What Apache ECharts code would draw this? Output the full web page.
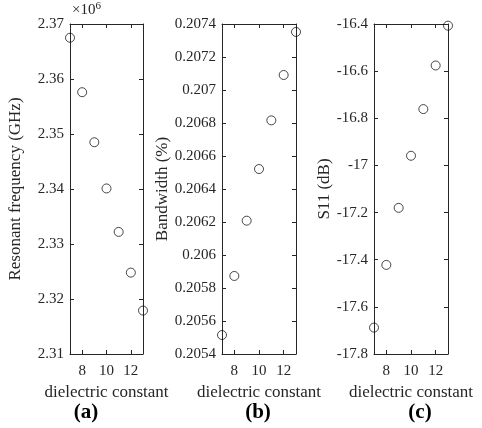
<!DOCTYPE html>
<html><head><meta charset="utf-8">
<script src="https://cdn.jsdelivr.net/npm/echarts@6/dist/echarts.min.js"></script>
<style>html,body{margin:0;padding:0;background:#fff}#c{width:482px;height:428px}</style>
</head><body><div id="c"></div>
<script>
const dielectric = [7, 8, 9, 10, 11, 12, 13];
const freqE6 = [2.3675, 2.3576, 2.3485, 2.3401, 2.3322, 2.3248, 2.3179];
const bandwidth = [0.205515, 0.205873, 0.206208, 0.206521, 0.206816, 0.207091, 0.207352];
const s11 = [-17.688, -17.422, -17.18, -16.959, -16.761, -16.576, -16.407];
const xTicks = [8, 10, 12];
const yNames = ['Resonant frequency (GHz)', 'Bandwidth (%)', 'S11 (dB)'];
const xName = 'dielectric constant';
const panelLabels = ['(a)', '(b)', '(c)'];

const FONT = '"Liberation Serif", "Times New Roman", serif';
const AX = '#262626';
const grids = [
  {left: 70, top: 24, width: 73, height: 330},
  {left: 222, top: 24, width: 74, height: 330},
  {left: 374, top: 24, width: 74, height: 330}
];
const yCfg = [
  {min: 2.31, max: 2.37, interval: 0.01, dec: 2, gap: 46},
  {min: 0.2054, max: 0.2074, interval: 0.0002, dec: 4, gap: 50},
  {min: -17.8, max: -16.4, interval: 0.2, dec: 1, gap: 40}
];
const seriesData = [freqE6, bandwidth, s11];

const xAxis = [], yAxis = [], series = [];
grids.forEach((g, i) => {
  const base = {
    gridIndex: i, type: 'value', min: 7, max: 13,
    axisLine: {show: true, lineStyle: {color: AX, width: 1}},
    axisTick: {show: true, inside: true, length: 4, customValues: xTicks, lineStyle: {color: AX}},
    splitLine: {show: false}
  };
  xAxis.push(Object.assign({}, base, {
    position: 'bottom',
    axisLabel: {show: true, customValues: xTicks, color: AX, fontFamily: FONT, fontSize: 15, margin: 10},
    name: xName, nameLocation: 'middle', nameGap: 29,
    nameTextStyle: {color: AX, fontFamily: FONT, fontSize: 17}
  }));
  xAxis.push(Object.assign({}, base, {position: 'top', axisLabel: {show: false}}));
  const yc = yCfg[i];
  const ybase = {
    gridIndex: i, type: 'value', min: yc.min, max: yc.max, interval: yc.interval,
    axisLine: {show: true, lineStyle: {color: AX, width: 1}},
    axisTick: {show: true, inside: true, length: 4, lineStyle: {color: AX}},
    splitLine: {show: false}
  };
  yAxis.push(Object.assign({}, ybase, {
    position: 'left',
    axisLabel: {show: true, color: AX, fontFamily: FONT, fontSize: 15, margin: 6,
      formatter: v => String(+v.toFixed(yc.dec))},
    name: yNames[i], nameLocation: 'middle', nameRotate: 90, nameGap: yc.gap,
    nameTextStyle: {color: AX, fontFamily: FONT, fontSize: 17}
  }));
  yAxis.push(Object.assign({}, ybase, {position: 'right', axisLabel: {show: false}}));
  series.push({
    type: 'scatter', xAxisIndex: 2 * i, yAxisIndex: 2 * i,
    data: dielectric.map((d, k) => [d, seriesData[i][k]]),
    symbol: 'circle', symbolSize: 9, clip: false,
    itemStyle: {color: 'rgba(0,0,0,0)', borderColor: '#000', borderWidth: 0.9},
    emphasis: {disabled: true}
  });
});

const graphic = [
  {type: 'text', left: 72, top: 1, style: {
    text: '×10{s|6}', fill: AX, fontFamily: FONT, fontSize: 15,
    rich: {s: {fontSize: 11, fontFamily: FONT, fill: AX, verticalAlign: 'top', padding: [0, 0, 8, 0]}}}}
];
const labelX = [86, 258, 420];
panelLabels.forEach((t, i) => {
  graphic.push({type: 'text', x: labelX[i], y: 413, style: {
    text: t, fill: '#000', fontFamily: FONT, fontWeight: 'bold', fontSize: 21, align: 'center', verticalAlign: 'middle'}});
});

const chart = echarts.init(document.getElementById('c'), null, {renderer: 'canvas'});
chart.setOption({
  animation: false,
  textStyle: {fontFamily: FONT},
  grid: grids.map(g => Object.assign({containLabel: false}, g)),
  xAxis, yAxis, series, graphic
});
</script></body></html>
